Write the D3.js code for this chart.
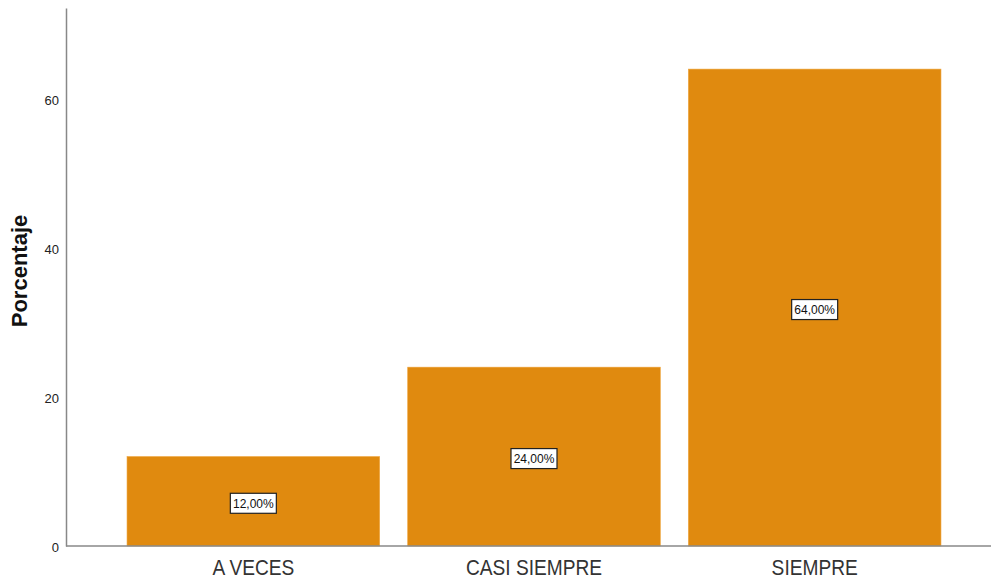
<!DOCTYPE html>
<html>
<head>
<meta charset="utf-8">
<script src="https://cdn.jsdelivr.net/npm/d3@7/dist/d3.min.js"></script>
<style>
  html, body { margin: 0; padding: 0; background: #ffffff; }
  svg { display: block; font-family: "Liberation Sans", Arial, sans-serif; }
</style>
</head>
<body>
<svg id="chart" width="993" height="581"></svg>
<script>
// Response categories and their percentages
const categories = ["A VECES", "CASI SIEMPRE", "SIEMPRE"];
const percentages = [12, 24, 64];
const valueLabels = ["12,00%", "24,00%", "64,00%"];
const yTicks = [0, 20, 40, 60];

const svg = d3.select("#chart");

const x = d3.scaleBand()
  .domain(categories)
  .range([113, 955])
  .paddingInner(0.1)
  .paddingOuter(0.05);

const y = d3.scaleLinear()
  .domain([0, 72.2])
  .range([546, 8]);

const barColor = "#e08a0f";

// Bars
svg.append("g").selectAll("rect")
  .data(categories)
  .join("rect")
  .attr("x", d => x(d))
  .attr("width", x.bandwidth())
  .attr("y", (d, i) => y(percentages[i]))
  .attr("height", (d, i) => y(0) - y(percentages[i]))
  .attr("fill", barColor)
  .attr("stroke", "#eea33a")
  .attr("stroke-width", 0.6);

// Y axis (line only, no tick marks)
const yAxis = svg.append("g")
  .attr("transform", "translate(66,0)")
  .call(d3.axisLeft(y).tickValues(yTicks).tickSize(0).tickPadding(7).tickFormat(d3.format("d")));
yAxis.select(".domain").attr("stroke", "#888888").attr("stroke-width", 1.5);
yAxis.selectAll("text")
  .attr("font-size", 13)
  .attr("dy", "0.45em")
  .attr("fill", "#222222")
  .attr("font-family", "'Liberation Sans', Arial, sans-serif");

// X axis baseline
svg.append("line")
  .attr("x1", 66).attr("x2", 991)
  .attr("y1", y(0)).attr("y2", y(0))
  .attr("stroke", "#888888")
  .attr("stroke-width", 1.5);

// Category labels (tall, slightly condensed)
svg.append("g").selectAll("text")
  .data(categories)
  .join("text")
  .attr("transform", d => `translate(${x(d) + x.bandwidth() / 2},575) scale(0.87,1)`)
  .attr("text-anchor", "middle")
  .attr("font-size", 22)
  .attr("fill", "#333333")
  .text(d => d);

// Y axis title
svg.append("text")
  .attr("transform", "translate(27,271) rotate(-90)")
  .attr("text-anchor", "middle")
  .attr("font-size", 22)
  .attr("font-weight", "bold")
  .attr("fill", "#111111")
  .text("Porcentaje");

// Value labels in white boxes at bar centres
const lbl = svg.append("g").selectAll("g")
  .data(categories)
  .join("g")
  .attr("transform", (d, i) => `translate(${x(d) + x.bandwidth() / 2},${(y(percentages[i]) + y(0)) / 2 + 2})`);

lbl.append("rect")
  .attr("x", -23).attr("y", -10)
  .attr("width", 46).attr("height", 20)
  .attr("fill", "#ffffff")
  .attr("stroke", "#222222")
  .attr("stroke-width", 1.2);

lbl.append("text")
  .attr("text-anchor", "middle")
  .attr("dy", "0.36em")
  .attr("font-size", 12)
  .attr("fill", "#111111")
  .text((d, i) => valueLabels[i]);
</script>
</body>
</html>
